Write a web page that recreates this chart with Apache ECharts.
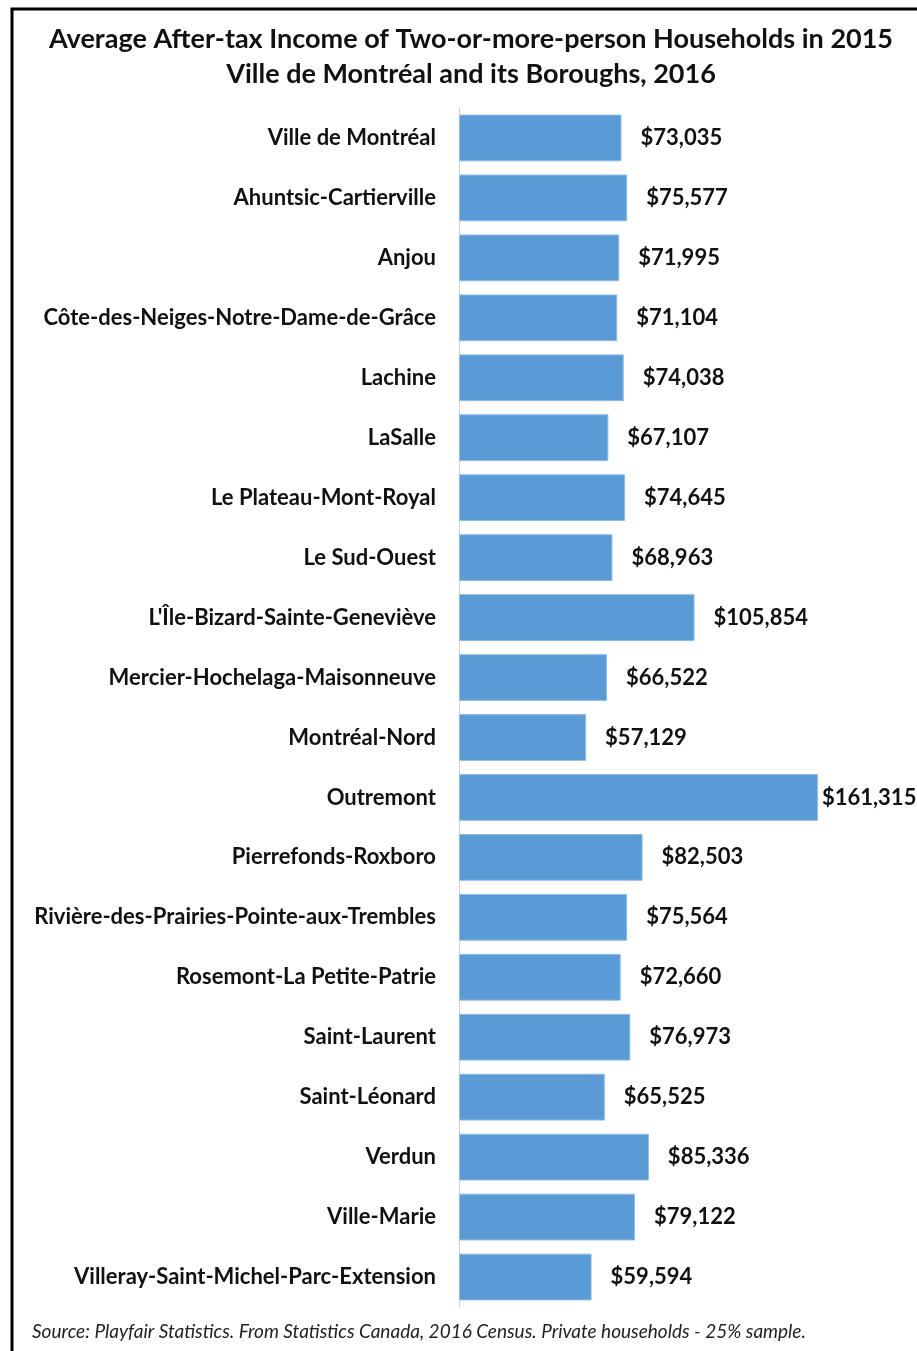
<!DOCTYPE html>
<html>
<head>
<meta charset="utf-8">
<script src="https://cdn.jsdelivr.net/npm/echarts@6/dist/echarts.min.js"></script>
<style>
  html, body { margin: 0; padding: 0; background: #fff; overflow: hidden; }
  #chart { width: 917px; height: 1351px; }
</style>
</head>
<body>
<div id="chart"></div>
<script>
// boroughs, top to bottom as in the picture
const boroughs = [
  'Ville de Montréal',
  'Ahuntsic-Cartierville',
  'Anjou',
  'Côte-des-Neiges-Notre-Dame-de-Grâce',
  'Lachine',
  'LaSalle',
  'Le Plateau-Mont-Royal',
  'Le Sud-Ouest',
  "L'Île-Bizard-Sainte-Geneviève",
  'Mercier-Hochelaga-Maisonneuve',
  'Montréal-Nord',
  'Outremont',
  'Pierrefonds-Roxboro',
  'Rivière-des-Prairies-Pointe-aux-Trembles',
  'Rosemont-La Petite-Patrie',
  'Saint-Laurent',
  'Saint-Léonard',
  'Verdun',
  'Ville-Marie',
  'Villeray-Saint-Michel-Parc-Extension'
];

const income = [
  73035, 75577, 71995, 71104, 74038, 67107, 74645, 68963, 105854, 66522,
  57129, 161315, 82503, 75564, 72660, 76973, 65525, 85336, 79122, 59594
];

const titleLines = [
  'Average After-tax Income of Two-or-more-person Households in 2015',
  'Ville de Montréal and its Boroughs, 2016'
];
const sourceNote = 'Source: Playfair Statistics. From Statistics Canada, 2016 Census. Private households - 25% sample.';

const FONT = 'Lato, "Open Sans", sans-serif';
const maxIncome = Math.max(...income);

const chart = echarts.init(document.getElementById('chart'));

chart.setOption({
  animation: false,
  backgroundColor: '#fff',
  title: {
    text: titleLines.join('\n'),
    left: 466,
    top: 17,
    textAlign: 'center',
    textStyle: {
      fontFamily: FONT,
      fontWeight: 'bold',
      fontSize: 27,
      lineHeight: 35,
      color: '#111'
    }
  },
  grid: { left: 459, right: 13, top: 108, bottom: 44 },
  xAxis: {
    type: 'value',
    min: 0,
    max: 200000,
    show: false
  },
  yAxis: {
    type: 'category',
    inverse: true,
    data: boroughs,
    axisLine: { show: true, lineStyle: { color: '#d0d0d0', width: 1 } },
    axisTick: { show: false },
    axisLabel: {
      margin: 23,
      fontFamily: FONT,
      fontWeight: 'bold',
      fontSize: 22,
      color: '#111'
    }
  },
  series: [{
    type: 'bar',
    // the widest bar has its label pulled in close, as in the picture
    data: income.map(v => v === maxIncome ? { value: v, label: { distance: 4 } } : v),
    barCategoryGap: '22%',
    itemStyle: { color: '#5b9bd5', borderColor: '#8dbbe6', borderWidth: 1 },
    label: {
      show: true,
      position: 'right',
      distance: 19,
      fontFamily: FONT,
      fontWeight: 'bold',
      fontSize: 22,
      color: '#111',
      formatter: p => '$' + p.value.toLocaleString('en-US')
    }
  }],
  graphic: [
    {
      type: 'rect',
      shape: { x: 12, y: 9, width: 1000, height: 1500 },
      style: { fill: 'none', stroke: '#000', lineWidth: 3 },
      silent: true
    },
    {
      type: 'text',
      left: 32,
      top: 1322,
      style: {
        text: sourceNote,
        font: 'italic 19px ' + FONT,
        fill: '#222'
      }
    }
  ]
});
</script>
</body>
</html>
